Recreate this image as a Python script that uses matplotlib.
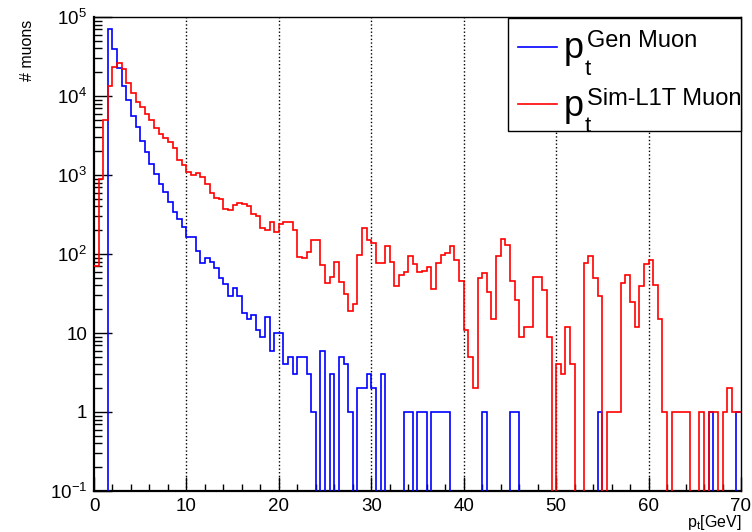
import numpy as np
import matplotlib
matplotlib.use("Agg")
import matplotlib.pyplot as plt
from matplotlib.ticker import FixedLocator, NullFormatter, LogLocator, MultipleLocator
from matplotlib.patches import Rectangle
from matplotlib.lines import Line2D

plt.rcParams['font.family'] = ['Liberation Sans', 'DejaVu Sans']
plt.rcParams['mathtext.fontset'] = 'custom'
plt.rcParams['mathtext.rm'] = 'Liberation Sans'
plt.rcParams['mathtext.it'] = 'Liberation Sans'

# binning: 140 bins of 0.5 GeV from 0 to 70
pt_low, pt_high, nbins = 0.0, 70.0, 140

# gen muon pt histogram (blue)
gen_counts = [
    0, 0, 0, 70000, 39000, 22400, 13400, 8900, 5600, 4000,
    2700, 1960, 1370, 1030, 760, 615, 450, 345, 280, 220,
    166, 166, 110, 76, 90, 80, 66, 49, 42, 29,
    37, 29, 18, 15, 17, 11, 9, 16, 6, 10,
    10, 4, 5, 3, 5, 5, 3, 1, 0, 6,
    0, 3, 0, 5, 4, 1, 0, 2, 2, 3,
    2, 0, 3, 0, 0, 0, 0, 1, 1, 0,
    1, 1, 0, 1, 1, 1, 1, 0, 0, 0,
    0, 0, 0, 0, 1, 0, 0, 0, 0, 0,
    1, 1, 0, 0, 0, 0, 0, 0, 0, 0,
    0, 0, 0, 0, 0, 0, 0, 0, 0, 1,
    0, 0, 0, 0, 0, 0, 0, 0, 0, 0,
    0, 0, 0, 0, 0, 0, 0, 0, 0, 0,
    0, 0, 0, 1, 0, 0, 0, 0, 0, 1,
]

# sim-L1T muon pt histogram (red)
sim_counts = [
    70, 880, 5000, 13400, 23500, 26500, 21700, 14800, 10800, 8300,
    7300, 6000, 5000, 3900, 3300, 2900, 2600, 2170, 1550, 1350,
    1100, 1000, 1070, 950, 760, 590, 505, 490, 370, 360,
    415, 445, 430, 405, 317, 307, 213, 200, 257, 188,
    240, 254, 254, 200, 92, 89, 107, 150, 150, 72,
    43, 51, 80, 44, 31, 19, 23, 98, 215, 150,
    138, 76, 76, 126, 80, 39, 54, 59, 93, 74,
    59, 61, 69, 36, 76, 98, 102, 127, 83, 45,
    11, 5, 2, 49, 58, 33, 15, 94, 155, 129,
    46, 26, 9, 12, 12, 51, 51, 35, 9, 0,
    4, 3, 12, 4, 0, 0, 78, 93, 50, 29,
    0, 1, 1, 1, 43, 54, 25, 12, 39, 74,
    85, 41, 15, 1, 0, 1, 1, 1, 1, 0,
    0, 1, 0, 1, 1, 0, 1, 2, 1, 1,
]

ytick_vals = [0.1, 1, 10, 100, 1000, 10000, 100000]
ytick_labels = [r'$10^{-1}$', '1', '10', r'$10^{2}$', r'$10^{3}$', r'$10^{4}$', r'$10^{5}$']

edges = np.linspace(pt_low, pt_high, nbins + 1)
gen = np.array(gen_counts, dtype=float)
sim = np.array(sim_counts, dtype=float)
# empty bins drop below the axis, like ROOT does
gen[gen <= 0] = 1e-3
sim[sim <= 0] = 1e-3

W, H = 752, 532
fig = plt.figure(figsize=(W / 100, H / 100), dpi=100)
ax = fig.add_axes([94 / W, 1 - 491 / H, (741 - 94) / W, (491 - 17) / H])

for g in range(10, 70, 10):
    ax.axvline(g, color='black', lw=1.0, ls=(0, (1, 1.6)), zorder=1)

ax.stairs(gen, edges, baseline=None, color='#0000ff', lw=1.2, zorder=3)
ax.stairs(sim, edges, baseline=None, color='#ff0000', lw=1.2, zorder=3)

ax.set_yscale('log')
ax.set_xlim(pt_low, pt_high)
ax.set_ylim(0.1, 1e5)

ax.xaxis.set_major_locator(MultipleLocator(10))
ax.xaxis.set_minor_locator(MultipleLocator(2))
ax.yaxis.set_major_locator(FixedLocator(ytick_vals))
ax.set_yticklabels(ytick_labels)
ax.yaxis.set_minor_locator(LogLocator(base=10, subs=np.arange(2, 10)))
ax.yaxis.set_minor_formatter(NullFormatter())

ax.tick_params(axis='both', which='both', direction='in', top=False, right=False,
               labelsize=13.5, width=1.0, colors='black')
ax.tick_params(axis='x', which='major', length=10, pad=5)
ax.tick_params(axis='x', which='minor', length=5)
ax.tick_params(axis='y', which='major', length=13, pad=5)
ax.tick_params(axis='y', which='minor', length=6)
for s in ax.spines.values():
    s.set_linewidth(1.0)
ax.spines['bottom'].set_linewidth(1.6)
ax.spines['left'].set_linewidth(1.6)

fig.text(28 / W, 1 - 20 / H, '# muons', rotation=90, ha='center', va='top', fontsize=11.5)
fig.text(741 / W, 1 - 527 / H, r'$\mathregular{p_{t}[GeV]}$', ha='right', va='baseline', fontsize=11.5)

# legend box drawn by hand, inside the axes so its text can be clipped at the frame
tf = fig.transFigure
box = Rectangle((508 / W, 1 - 131 / H), (741 - 508) / W, (131 - 18) / H,
                transform=tf, facecolor='white', edgecolor='black', lw=1.0, zorder=10,
                clip_on=False)
ax.add_patch(box)
entries = [('#0000ff', 'Gen Muon', 47, 58, 75), ('#ff0000', 'Sim-L1T Muon', 104, 116, 132)]
for col, sup, yline, ybase, ysub in entries:
    ax.add_line(Line2D([518 / W, 557 / W], [1 - yline / H, 1 - yline / H],
                       transform=tf, color=col, lw=1.2, zorder=11, clip_on=False))
    ax.text(564 / W, 1 - ybase / H, 'p', fontsize=26, ha='left', va='baseline',
            transform=tf, zorder=11, clip_on=False)
    ax.text(585 / W, 1 - ysub / H, 't', fontsize=16, ha='left', va='baseline',
            transform=tf, zorder=11, clip_on=False)
    ax.text(587 / W, 1 - (ybase - 11) / H, sup, fontsize=17, ha='left', va='baseline',
            transform=tf, zorder=11, clip_on=True)

fig.savefig('out.png', dpi=100)
